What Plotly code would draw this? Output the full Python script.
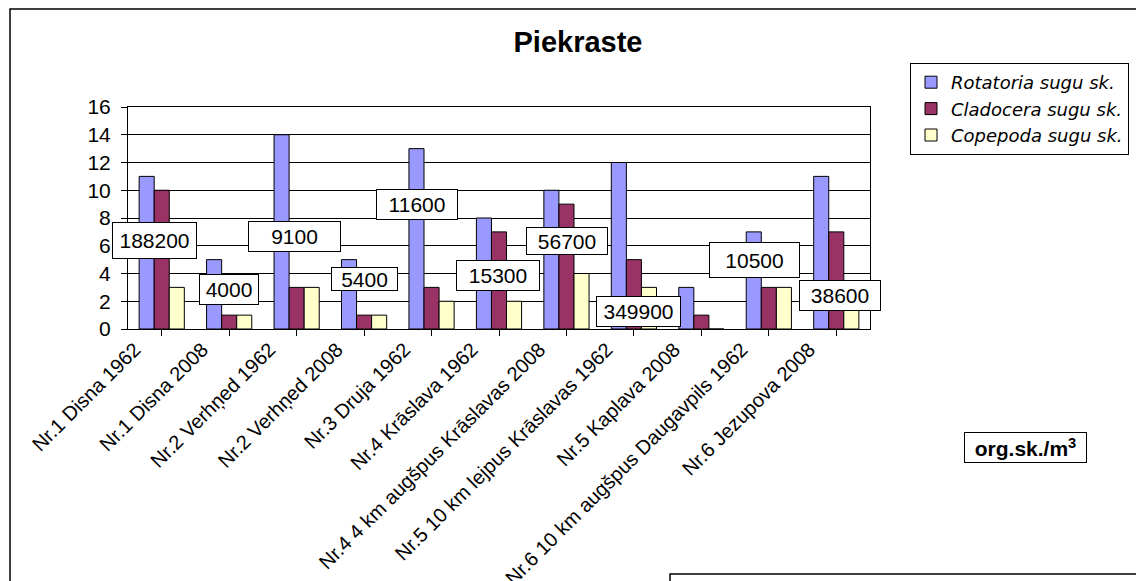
import plotly.graph_objects as go

categories = [
    "Nr.1 Disna 1962",
    "Nr.1 Disna 2008",
    "Nr.2 Verhņed 1962",
    "Nr.2 Verhņed 2008",
    "Nr.3 Druja 1962",
    "Nr.4 Krāslava 1962",
    "Nr.4 4 km augšpus Krāslavas 2008",
    "Nr.5 10 km lejpus Krāslavas 1962",
    "Nr.5 Kaplava 2008",
    "Nr.6 10 km augšpus Daugavpils 1962",
    "Nr.6 Jezupova 2008",
]
rotatoria = [11, 5, 14, 5, 13, 8, 10, 12, 3, 7, 11]
cladocera = [10, 1, 3, 1, 3, 7, 9, 5, 1, 3, 7]
copepoda = [3, 1, 3, 1, 2, 2, 4, 3, 0, 3, 2]
abundance = [188200, 4000, 9100, 5400, 11600, 15300, 56700, 349900, 1300, 10500, 38600]

series_names = ["Rotatoria sugu sk.", "Cladocera sugu sk.", "Copepoda sugu sk."]
series_colors = ["#9999FF", "#993366", "#FFFFCC"]

# label box placement (style): x offset from category, y in axis units, box w/h in px
label_dx = [-0.104, -0.006, -0.027, 0.012, -0.217, -0.015, 0.001, 0.062, -0.018, -0.217, 0.059]
label_y = [6.41, 2.88, 6.70, 3.60, 8.94, 3.89, 6.31, 1.23, -0.07, 4.97, 2.45]
label_w = [83, 58, 91, 65, 80, 82, 80, 83, 63, 89, 80]
label_h = [35, 29, 29, 22, 29, 29, 26, 29, 18, 34, 29]

FONT = "Liberation Sans, Arial, sans-serif"

fig = go.Figure()
for name, vals, col in zip(series_names, [rotatoria, cladocera, copepoda], series_colors):
    fig.add_trace(go.Bar(
        x=list(range(len(categories))), y=vals, name="<i>" + name + "</i>",
        marker=dict(color=col, line=dict(color="black", width=1)),
    ))

for i, v in enumerate(abundance):
    fig.add_annotation(
        x=i + label_dx[i], y=label_y[i], xref="x", yref="y",
        text=str(v), showarrow=False,
        font=dict(family=FONT, size=21, color="black"),
        bgcolor="white", bordercolor="black", borderwidth=1, borderpad=0,
        width=label_w[i], height=label_h[i], align="center", valign="middle",
    )

# unit label
fig.add_annotation(
    x=1.2096, y=-0.534, xref="paper", yref="paper",
    text="<b>org.sk./m<sup>3</sup></b>", showarrow=False,
    font=dict(family=FONT, size=21, color="black"),
    bgcolor="white", bordercolor="black", borderwidth=1, borderpad=0,
    width=121, height=29, xanchor="center", yanchor="middle",
)

# outer chart border (extends beyond the visible window)
fig.add_shape(type="rect", xref="paper", yref="paper",
              x0=-0.159, x1=2.0, y0=-3.0, y1=1.441,
              line=dict(color="black", width=1.5), fillcolor="rgba(0,0,0,0)", layer="below")
# lower right box
fig.add_shape(type="rect", xref="paper", yref="paper",
              x0=0.7305, x1=2.0, y0=-3.0, y1=-1.1036,
              line=dict(color="black", width=1.5), fillcolor="white")

fig.update_layout(
    width=1136, height=581,
    margin=dict(l=128, r=266, t=107, b=252, autoexpand=False),
    paper_bgcolor="white", plot_bgcolor="white",
    barmode="group", bargap=0.33, bargroupgap=0,
    font=dict(family=FONT, color="black"),
    title=dict(text="<b>Piekraste</b>", x=578 / 1136, y=1 - 42 / 581, xref="container", yref="container",
               xanchor="center", yanchor="middle", font=dict(family=FONT, size=29, color="black")),
    showlegend=True,
    legend=dict(x=(910 - 128) / 742, y=(329 - 63) / 222, xanchor="left", yanchor="top",
                bgcolor="white", bordercolor="black", borderwidth=1,
                font=dict(family="DejaVu Sans, sans-serif", size=18, color="black"),
                itemwidth=30, tracegroupgap=0),
    xaxis=dict(
        tickmode="array", tickvals=list(range(len(categories))), ticktext=categories,
        tickangle=-45, tickfont=dict(family=FONT, size=20, color="black"),
        range=[-0.5, len(categories) - 0.5], automargin=False,
        ticklabelshift=-27, ticklabelstandoff=-6,
        showline=True, linecolor="black", linewidth=1, mirror=True,
        ticks="outside", ticklen=6, tickcolor="black", tickson="boundaries",
        showgrid=False, zeroline=False,
    ),
    yaxis=dict(
        range=[0, 16], dtick=2, tickfont=dict(family=FONT, size=21, color="black"),
        automargin=False, ticklabelstandoff=6,
        showline=True, linecolor="black", linewidth=1, mirror=True,
        ticks="outside", ticklen=6, tickcolor="black",
        showgrid=True, gridcolor="black", gridwidth=1, zeroline=False,
    ),
)

fig.write_html("out.html", config={"displayModeBar": False},
               post_script="document.body.style.margin='0px';")
